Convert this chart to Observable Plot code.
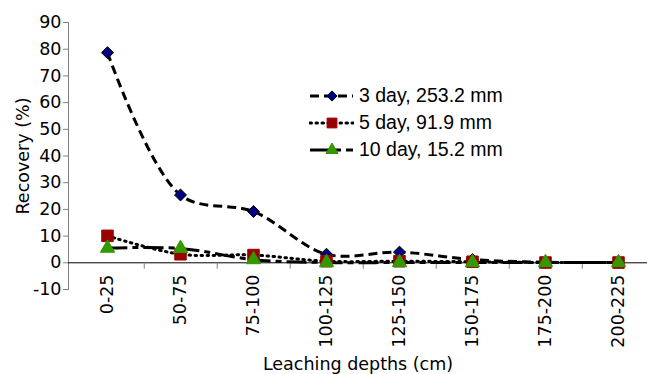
<!DOCTYPE html>
<html>
<head>
<meta charset="utf-8">
<script src="https://cdn.jsdelivr.net/npm/d3@7"></script>
<script src="https://cdn.jsdelivr.net/npm/@observablehq/plot@0.6"></script>
<style>
  html, body { margin: 0; padding: 0; background: #fff; }
  #wrap { position: relative; width: 647px; height: 374px; }
  #chart svg text { font-family: "DejaVu Sans", sans-serif; font-size: 17.5px; fill: #000; }
  #legend { position: absolute; left: 309px; top: 82px; font-family: "Liberation Sans", Arial, sans-serif; font-size: 19.5px; color: #000; }
  #legend .row { display: flex; align-items: center; height: 27px; }
  #legend svg { margin-right: 5px; }
</style>
</head>
<body>
<div id="wrap"><div id="chart"></div><div id="legend"></div></div>
<script>
const depths = ["0-25", "50-75", "75-100", "100-125", "125-150", "150-175", "175-200", "200-225"];
const seriesNames = ["3 day, 253.2 mm", "5 day, 91.9 mm", "10 day, 15.2 mm"];
const day3 = [78.7, 25.4, 19.2, 3.2, 4.0, 1.2, 0.2, 0.1];
const day5 = [10.1, 3.2, 2.9, 0.6, 0.6, 0.4, 0.1, 0.1];
const day10 = [5.5, 5.4, 1.2, 0.1, 0.1, 0.1, 0.1, 0.1];
const yTicks = [-10, 0, 10, 20, 30, 40, 50, 60, 70, 80, 90];

const styles = [
  {values: day3, dash: "9,5", cap: "butt", symbol: "diamond2", fill: "#000080", stroke: "#000", r: 5.4},
  {values: day5, dash: "1.5,4.5", cap: "round", symbol: "square", fill: "#990000", stroke: "#990000", r: 6.5},
  {values: day10, dash: "20,5,6,5", cap: "butt", symbol: "triangle", fill: "#339900", stroke: "#339900", r: 5.3}
];

const tables = styles.map((s, i) => depths.map((d, j) => ({depth: d, value: s.values[j], series: seriesNames[i]})));

const marks = [
  Plot.frame({anchor: "left", stroke: "#808080"}),
  Plot.axisY({ticks: yTicks, tickFormat: d => String(d), tickSize: 5, tickPadding: 2, label: "Recovery (%)", labelAnchor: "center", labelArrow: "none", labelOffset: 52, stroke: "#808080"}),
  Plot.axisX({tickSize: 0, tickRotate: -90, tickPadding: -15, label: "Leaching depths (cm)", labelAnchor: "center", labelArrow: "none", labelOffset: 80}),
  Plot.ruleY([0], {stroke: "#000", strokeWidth: 1}),
  Plot.ruleX(depths.slice(0, -1), {x: d => d, dx: 36.75, y1: 0, y2: -2.4, stroke: "#808080"})
];
styles.forEach((s, i) => {
  marks.push(Plot.line(tables[i], {x: "depth", y: "value", curve: "catmull-rom", stroke: "#000", strokeWidth: 3, strokeDasharray: s.dash, strokeLinecap: s.cap}));
});
styles.forEach((s, i) => {
  marks.push(Plot.dot(tables[i], {x: "depth", y: "value", symbol: () => s.symbol, r: s.r, fill: s.fill, stroke: s.stroke, strokeWidth: 1}));
});

const chart = Plot.plot({
  width: 647,
  height: 374,
  marginLeft: 68,
  marginRight: 0,
  marginTop: 22,
  marginBottom: 85,
  style: {fontFamily: "DejaVu Sans, sans-serif", fontSize: "17.5px", background: "#fff", color: "#000"},
  x: {type: "point", domain: depths, range: [104.75, 619.25], padding: 0},
  y: {domain: [-10, 90]},
  symbol: {type: "identity"},
  marks
});
document.getElementById("chart").appendChild(chart);

// legend
const legend = d3.select("#legend");
styles.forEach((s, i) => {
  const row = legend.append("div").attr("class", "row");
  const svg = row.append("svg").attr("width", 45).attr("height", 16);
  svg.append("line").attr("x1", 1).attr("x2", 44).attr("y1", 8).attr("y2", 8)
    .attr("stroke", "#000").attr("stroke-width", 3).attr("stroke-dasharray", s.dash).attr("stroke-linecap", s.cap);
  const sym = {diamond2: d3.symbolDiamond2, square: d3.symbolSquare, triangle: d3.symbolTriangle}[s.symbol];
  const size = Math.PI * (s.r * 0.85) ** 2;
  svg.append("path").attr("d", d3.symbol(sym, size)()).attr("transform", "translate(23,8)")
    .attr("fill", s.fill).attr("stroke", s.stroke);
  row.append("span").text(seriesNames[i]);
});
</script>
</body>
</html>
